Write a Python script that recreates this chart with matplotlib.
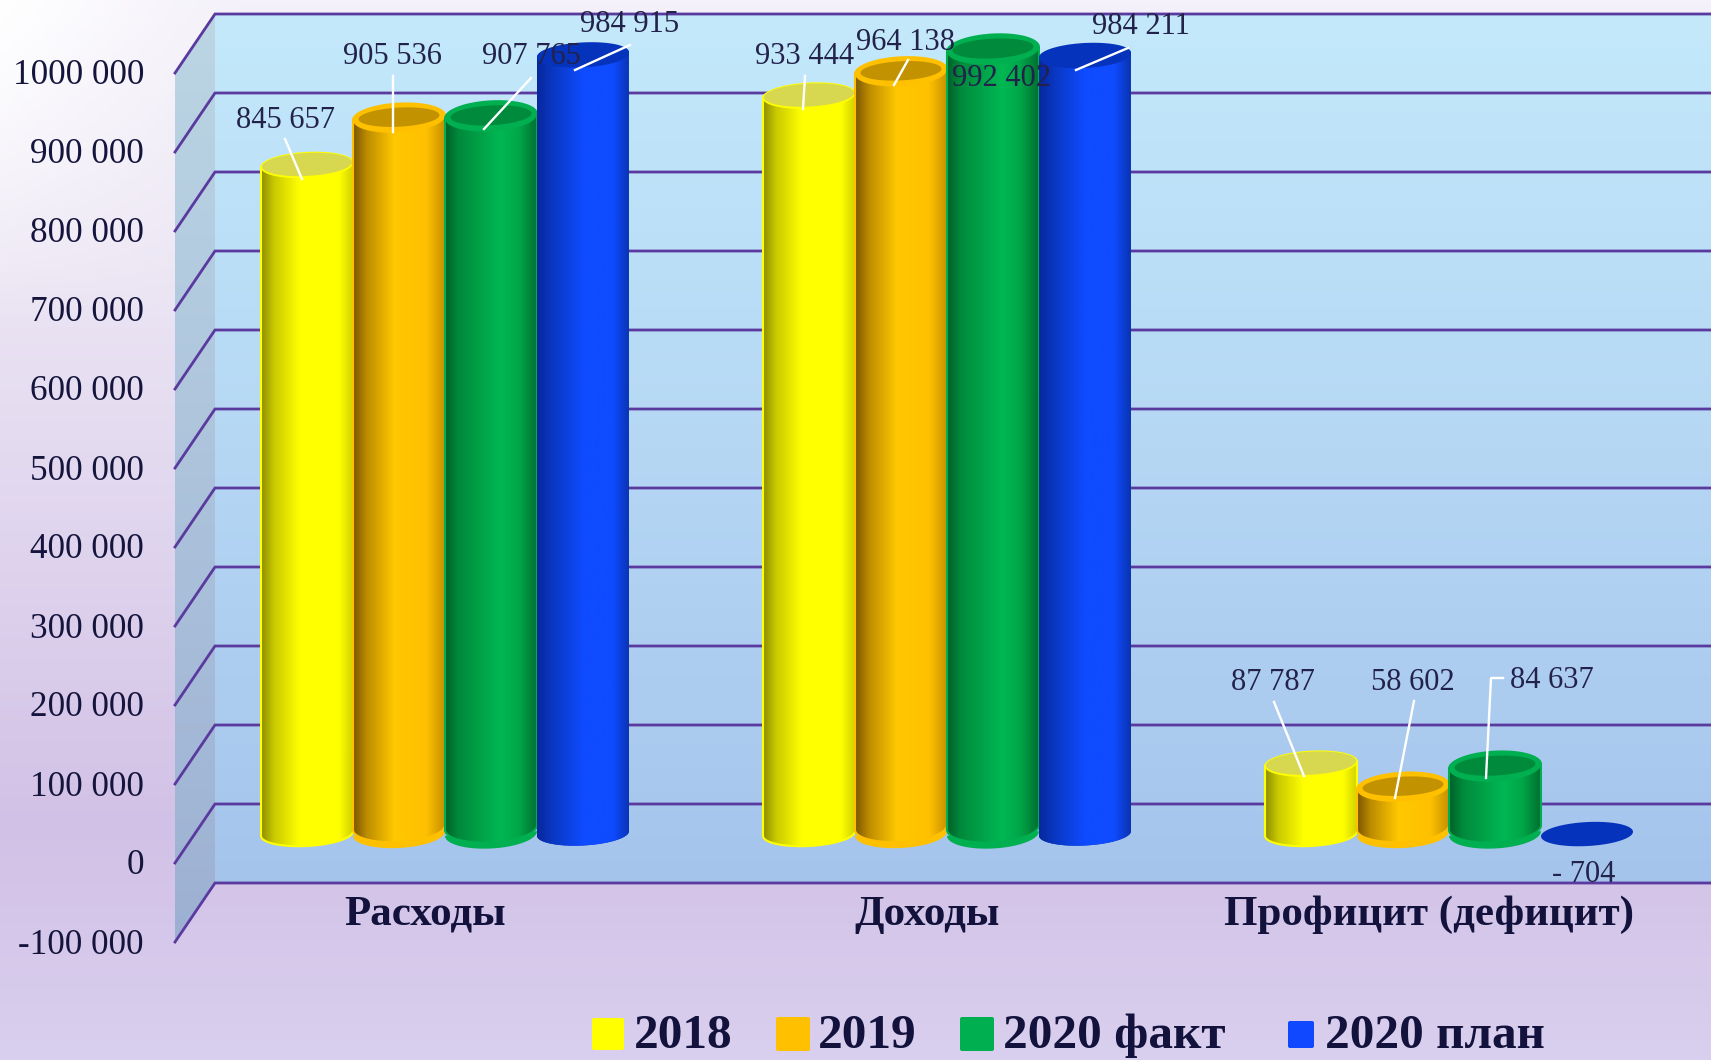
import numpy as np
import matplotlib
matplotlib.use('Agg')
import matplotlib.pyplot as plt
from matplotlib.colors import LinearSegmentedColormap, to_rgb
from matplotlib.patches import PathPatch, FancyBboxPatch
from matplotlib.path import Path
from matplotlib.transforms import Affine2D

plt.rcParams['font.family'] = ['Liberation Serif', 'DejaVu Serif']

# данные
categories = ['Расходы', 'Доходы', 'Профицит (дефицит)']
series_names = ['2018', '2019', '2020 факт', '2020 план']
v2018 = [845657, 933444, 87787]
v2019 = [905536, 964138, 58602]
v2020_fact = [907765, 992402, 84637]
v2020_plan = [984915, 984211, -704]
series = [v2018, v2019, v2020_fact, v2020_plan]
tick_values = [-100000, 0, 100000, 200000, 300000, 400000, 500000, 600000,
               700000, 800000, 900000, 1000000]
tick_labels = ['-100 000', '0', '100 000', '200 000', '300 000', '400 000', '500 000',
               '600 000', '700 000', '800 000', '900 000', '1000 000']

# подписи: центр текста и выноска в пикселях картинки
label_text = [['845 657', '933 444', '87 787'],
              ['905 536', '964 138', '58 602'],
              ['907 765', '992 402', '84 637'],
              ['984 915', '984 211', '- 704']]
label_pos = [[(286, 120), (805, 56), (1273, 682)],
             [(392, 57), (906, 42), (1413, 682)],
             [(531, 57), (1002, 78), (1552, 681)],
             [(630, 25), (1141, 27), (1584, 874)]]
leaders = [[[(285, 139), (302, 179)], [(805, 76), (803, 109)], [(1274, 702), (1304, 776)]],
           [[(393, 76), (393, 132)], [(908, 60), (894, 85)], [(1414, 701), (1395, 798)]],
           [[(531, 78), (484, 129)], None, [(1503, 678), (1491, 678), (1486, 778)]],
           [[(630, 45), (575, 70)], [(1128, 48), (1076, 70)], None]]

W, H = 1711, 1060
fig = plt.figure(figsize=(W / 100, H / 100), dpi=100)
ax = fig.add_axes([0, 0, 1, 1])
ax.axis('off')

# масштабы: средняя плоскость глубины
X0, XSTEP = 445, 502
Y0, YSTEP = 833.5, 79 / 100000
def px2x(p):
    return (p - X0) / XSTEP
def py2v(p):
    return (Y0 - p) / YSTEP
ax.set_xlim(px2x(0), px2x(W))
ax.set_ylim(py2v(H), py2v(0))
pix = Affine2D().scale(1, -1).translate(0, H)

def vgrad(stops, n=256):
    pos = np.array([s[0] for s in stops])
    cols = np.array([to_rgb(s[1]) for s in stops])
    t = np.linspace(0, 1, n)
    return np.stack([np.interp(t, pos, cols[:, i]) for i in range(3)], axis=1)

# фон
bg = vgrad([(0, '#f4f1fa'), (0.25, '#ece6f4'), (0.5, '#e0d5ee'), (0.78, '#d2c1e6'), (1, '#d9cfee')])
bg = np.repeat(bg[:, None, :], 400, axis=1)
xx, yy = np.meshgrid(np.linspace(0, 1, 400), np.linspace(0, 1, 256))
mix = np.clip(1 - xx / 0.14, 0, 1) * np.clip(1 - yy / 0.3, 0, 1)
bg = bg * (1 - mix[..., None]) + mix[..., None]
ax.imshow(bg, extent=(px2x(0), px2x(W), py2v(H), py2v(0)), aspect='auto', zorder=0)

# стенки
dv = 29.5 / YSTEP
x_front, x_back, x_right = px2x(175), px2x(215), px2x(W)
vmin, vmax = tick_values[0], tick_values[-1]
wall = vgrad([(0, '#c3e9fb'), (0.5, '#b5d7f4'), (1, '#a5c4ec')])[:, None, :]
ax.imshow(wall, extent=(x_back, x_right, vmin + dv, vmax + dv), aspect='auto', zorder=1)
side = vgrad([(0, '#bcd6e4'), (1, '#9db0d3')])[:, None, :]
im = ax.imshow(side, extent=(x_front, x_back, vmin - dv, vmax + dv), aspect='auto', zorder=1)
clip = PathPatch(Path([(x_front, vmin - dv), (x_back, vmin + dv), (x_back, vmax + dv),
                       (x_front, vmax - dv), (x_front, vmin - dv)]), transform=ax.transData)
im.set_clip_path(clip)

for v in tick_values:
    ax.plot([x_front, x_back, x_right], [v - dv, v + dv, v + dv], color='#5a3a9e', lw=2.0, zorder=2,
            solid_joinstyle='miter')

for v, lab in zip(tick_values, tick_labels):
    ax.text(px2x(144), v - dv - 3 / YSTEP, lab, ha='right', va='center', fontsize=25.3,
            color='#14143c', zorder=50)

for i, cat in enumerate(categories):
    ax.text(i - 20 / XSTEP, py2v(915), cat, ha='center', va='center', fontsize=31,
            fontweight='bold', color='#12123c', zorder=50)

# цилиндры
grads = [[(0, '#8c8c00'), (0.14, '#c9c900'), (0.42, '#ffff00'), (0.85, '#ffff00'), (1, '#d2d200')],
         [(0, '#7a5600'), (0.15, '#bd8c00'), (0.45, '#ffc800'), (0.8, '#ffc000'), (1, '#c69000')],
         [(0, '#00602a'), (0.15, '#008a3c'), (0.6, '#00b853'), (0.8, '#00a648'), (1, '#006f30')],
         [(0, '#08279c'), (0.16, '#0a37c0'), (0.5, '#0f4bff'), (0.82, '#0f4bff'), (1, '#0a33b0')]]
rims = ['#ffff00', '#ffc000', '#00b050', '#0533bb']
inner = ['#d8d850', '#c29200', '#008a3c', '#0533bb']
rim_w = [0.98, 0.88, 0.88, 1.0]
rim_h = [0.92, 0.66, 0.66, 1.0]
ell_h = [12.5, 14.5, 15, 12]
width = 92 / XSTEP
step = 92 / XSTEP
a = width / 2
tilt = 0.05 * (1 / YSTEP) / (1 / XSTEP)

def ellipse(cx, v, b_px, sa=1.0, sb=1.0, t0=0, t1=2 * np.pi):
    t = np.linspace(t0, t1, 80)
    ex = a * sa * np.cos(t)
    return cx + ex, v + b_px / YSTEP * sb * np.sin(t) + tilt * ex

z = 10
for s, vals in enumerate(series):
    cmap = LinearSegmentedColormap.from_list('c%d' % s, grads[s])
    grad = cmap(np.linspace(0, 1, 256))[None, :, :3]
    bpx = ell_h[s]
    for i, val in enumerate(vals):
        cx = i + (s - 1.5) * step
        if val > 0:
            bx, by = ellipse(cx, 0, bpx, t0=np.pi, t1=2 * np.pi)
            ax.fill(bx, by, color=rims[s] if s < 3 else '#0a37c0', lw=0, zorder=z)
            lift = 6 / YSTEP if s in (1, 2) else 0
            lx, ly = ellipse(cx, lift, bpx, t0=np.pi, t1=2 * np.pi)
            tx, ty = ellipse(cx, val, bpx, t0=0, t1=np.pi)
            body = np.r_[np.c_[lx, ly], np.c_[tx, ty], [[lx[0], ly[0]]]]
            im = ax.imshow(grad, extent=(cx - a, cx + a, -40 / YSTEP, val + 40 / YSTEP), aspect='auto', zorder=z + 1)
            im.set_clip_path(PathPatch(Path(body), transform=ax.transData))
            if s < 3:
                ax.plot(body[:, 0], body[:, 1], color=rims[s], lw=1.5, zorder=z + 1)
            ox, oy = ellipse(cx, val, bpx)
            ax.fill(ox, oy, color=rims[s], lw=0, zorder=z + 2)
            ix, iy = ellipse(cx, val + 1 / YSTEP, bpx, rim_w[s], rim_h[s])
            ax.fill(ix, iy, color=inner[s], lw=0, zorder=z + 2)
        else:
            ox, oy = ellipse(cx, val, bpx)
            ax.fill(ox, oy, color=inner[s], lw=0, zorder=z + 2)
        z += 3

# подписи значений
for s in range(4):
    for i in range(3):
        px, py = label_pos[s][i]
        ax.text(px, py, label_text[s][i], transform=pix, ha='center', va='center', fontsize=22,
                color='#22224a', zorder=60)
        if leaders[s][i] is not None:
            pts = np.array(leaders[s][i])
            ax.plot(pts[:, 0], pts[:, 1], transform=pix, color='white', lw=1.7, zorder=55)

# легенда
leg_boxes = [(592, 1018, 32, 32), (776, 1017, 34, 34), (960, 1017, 34, 34), (1288, 1021, 26, 27)]
leg_text_x = [634, 818, 1003, 1325]
leg_cols = ['#ffff00', '#ffc000', '#00b050', '#0f48ff']
for name, box, tx, col in zip(series_names, leg_boxes, leg_text_x, leg_cols):
    ax.add_patch(FancyBboxPatch((box[0] + 2, box[1] + 2), box[2] - 4, box[3] - 4, boxstyle='round,pad=2',
                                transform=pix, fc=col, ec='none', zorder=60))
    ax.text(tx, 1036, name, transform=pix, ha='left', va='center', fontsize=35.5, fontweight='bold',
            color='#12123c', zorder=60)

fig.savefig('out.png', dpi=100)
